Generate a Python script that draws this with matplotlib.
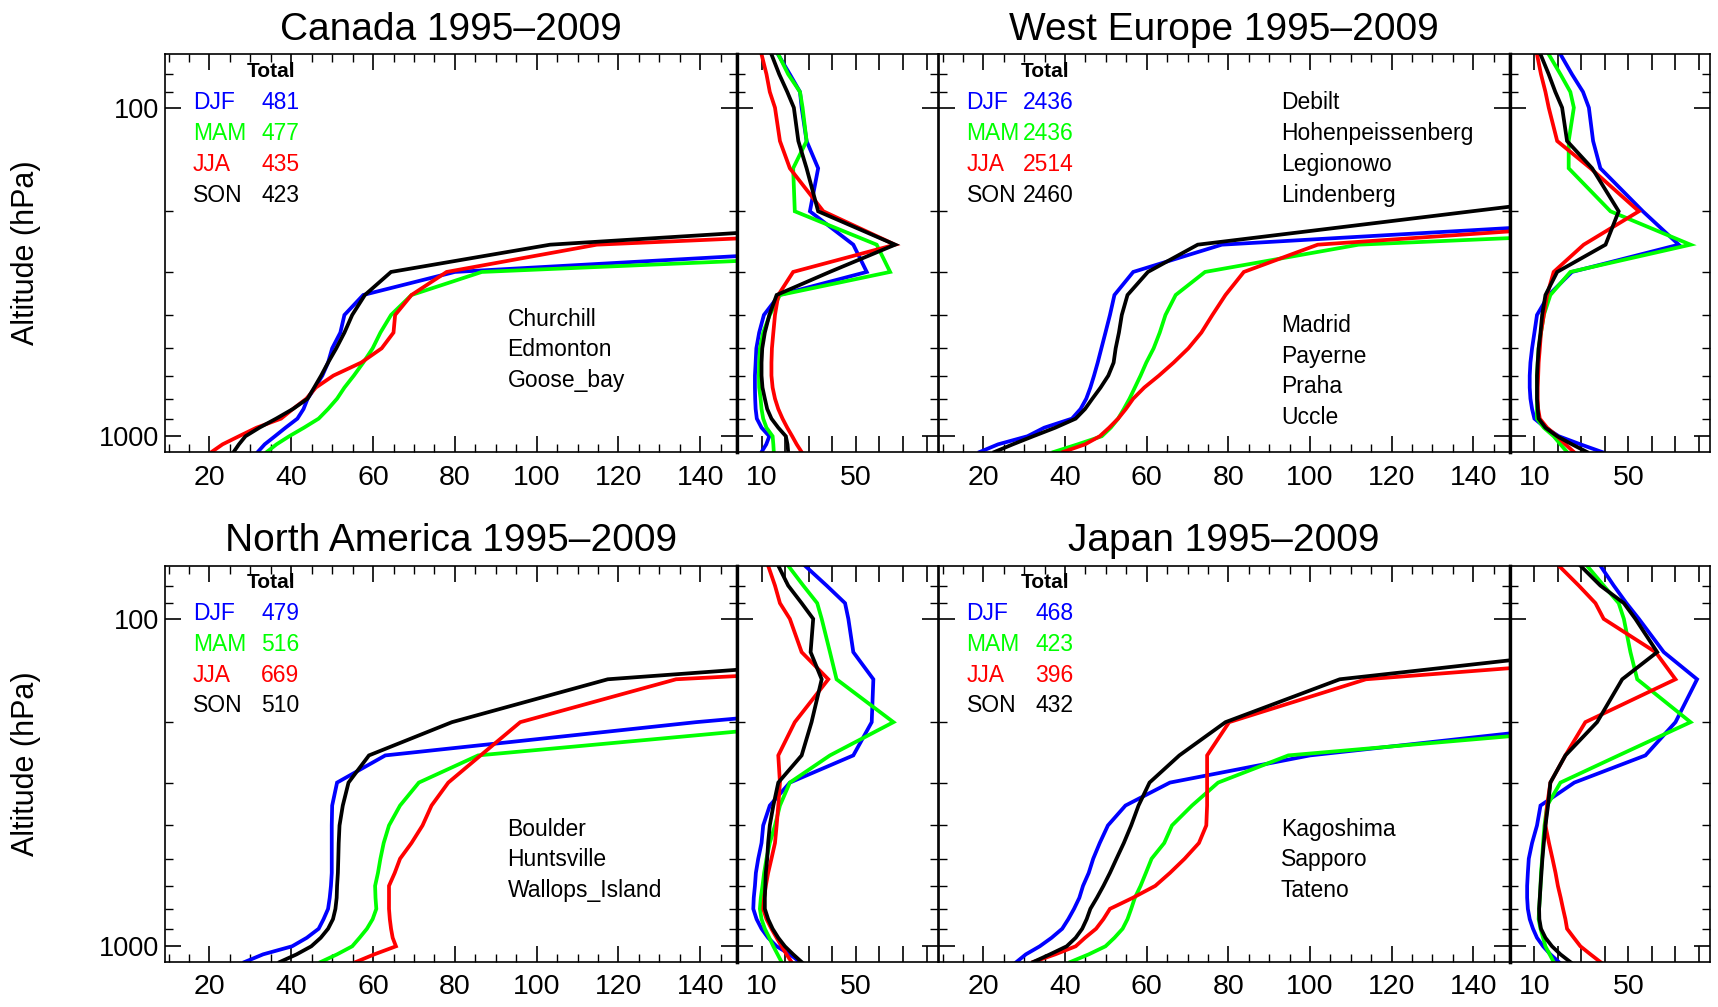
import matplotlib
matplotlib.use('Agg')
import matplotlib.pyplot as plt
from matplotlib.ticker import FixedLocator, FixedFormatter, NullFormatter

plt.rcParams['font.family'] = ['Liberation Sans', 'DejaVu Sans']

# ---------------- data ----------------
levels_hPa = [1000, 950, 900, 850, 800, 750, 700, 650, 600, 550, 500, 450,
              400, 350, 300, 250, 200, 150, 125, 100, 90, 80, 70]
seasons = ['DJF', 'MAM', 'JJA', 'SON']
season_colors = ['#0000ff', '#00ff00', '#ff0000', '#000000']

# Canada
canada_title = 'Canada 1995\u20132009'
canada_counts = [481, 477, 435, 423]
canada_stations = ['Churchill', 'Edmonton', 'Goose_bay']
canada_djf = [31.8, 33.5, 36.0, 38.6, 41.5, 43.0, 44.0, 45.8, 47.6, 49.0, 50.0, 52.0,
              53.0, 57.6, 80.0, 199, 300, 400, 450, 520, 560, 600, 650]
canada_mam = [34.0, 36.4, 39.5, 43.1, 46.7, 49.0, 51.2, 53.0, 55.3, 57.6, 59.9, 61.8,
              64.4, 69.4, 86.6, 242, 330, 420, 480, 550, 600, 650, 700]
canada_jja = [20.5, 23.2, 27.2, 31.5, 37.5, 40.4, 43.7, 46.0, 50.3, 57.1, 62.1, 65.0,
              65.4, 69.4, 78.0, 114.7, 300, 380, 430, 500, 550, 600, 650]
canada_son = [25.9, 27.2, 28.8, 32.2, 36.3, 40.4, 44.0, 45.6, 47.3, 49.0, 51.0, 53.0,
              54.9, 58.0, 64.4, 103.3, 234, 350, 420, 500, 550, 600, 680]
canada_djf_sd = [10.0, 12.0, 13.3, 10.0, 8.0, 7.5, 7.3, 7.2, 7.2, 7.5, 7.8, 9.0,
                 11.0, 17.5, 54.6, 48.9, 30.5, 34.0, 29.1, 27.0, 26.3, 22.0, 17.0]
canada_mam_sd = [15.2, 15.0, 14.7, 12.1, 10.7, 10.0, 9.6, 9.0, 8.9, 9.0, 9.3, 10.7,
                 13.5, 17.8, 64.5, 58.8, 24.1, 23.4, 29.1, 27.4, 26.3, 21.3, 17.1]
canada_jja_sd = [27.0, 24.9, 23.0, 20.9, 18.9, 17.1, 15.7, 14.7, 14.2, 14.2, 14.4, 15.0,
                 15.7, 17.1, 23.4, 66.6, 36.2, 22.0, 17.8, 15.7, 13.5, 12.1, 10.0]
canada_son_sd = [21.3, 21.0, 20.3, 17.1, 14.2, 12.4, 11.4, 10.4, 10.0, 10.0, 10.3, 11.4,
                 13.3, 16.4, 38.9, 66.6, 34.0, 29.1, 25.6, 23.7, 20.9, 17.5, 14.2]

# West Europe
weu_title = 'West Europe 1995\u20132009'
weu_counts = [2436, 2436, 2514, 2460]
weu_stations_upper = ['Debilt', 'Hohenpeissenberg', 'Legionowo', 'Lindenberg']
weu_stations_lower = ['Madrid', 'Payerne', 'Praha', 'Uccle']
weu_djf = [19.1, 23.6, 30.8, 34.9, 41.7, 43.8, 45.2, 46.2, 47.1, 48.0, 48.9, 49.9,
           51.0, 52.1, 56.7, 78.4, 220, 320, 380, 450, 500, 550, 600]
weu_mam = [37.2, 43.1, 49.0, 51.2, 53.0, 54.4, 55.8, 57.1, 58.5, 59.9, 61.7, 63.2,
           64.6, 67.1, 74.3, 111.9, 300, 380, 430, 500, 550, 600, 650]
weu_jja = [39.5, 44.9, 48.5, 50.8, 53.0, 54.9, 56.7, 59.4, 63.0, 66.6, 70.2, 73.4,
           76.1, 79.3, 83.8, 101.9, 220, 300, 360, 420, 470, 520, 570]
weu_son = [22.7, 27.2, 32.2, 37.6, 42.6, 44.9, 46.7, 48.7, 50.6, 51.9, 52.4, 53.2,
           53.9, 55.3, 60.3, 72.5, 139.6, 227, 300, 380, 430, 480, 530]
weu_djf_sd = [38.8, 29.6, 20.4, 14.7, 10.0, 9.0, 8.3, 8.0, 8.0, 8.3, 9.0, 10.0,
              11.1, 16.1, 26.0, 71.5, 56.2, 38.1, 35.0, 33.2, 30.7, 26.0, 21.1]
weu_mam_sd = [23.9, 21.1, 18.2, 14.0, 11.1, 11.1, 11.1, 11.1, 11.1, 11.4, 11.8, 12.8,
              14.0, 16.8, 25.3, 76.5, 42.4, 24.6, 24.6, 26.8, 25.3, 21.1, 16.1]
weu_jja_sd = [26.8, 23.2, 19.7, 15.4, 12.3, 11.6, 11.4, 11.4, 11.6, 11.8, 12.3, 12.8,
              14.0, 15.4, 18.2, 31.0, 54.5, 33.9, 19.7, 16.1, 14.7, 12.8, 11.1]
weu_son_sd = [32.4, 26.0, 19.7, 14.7, 11.8, 11.4, 11.1, 11.1, 11.1, 11.4, 11.8, 12.6,
              13.3, 14.7, 19.7, 40.3, 45.9, 34.6, 23.9, 21.8, 18.9, 16.1, 12.6]

# North America
nam_title = 'North America 1995\u20132009'
nam_counts = [479, 516, 669, 510]
nam_stations = ['Boulder', 'Huntsville', 'Wallops_Island']
nam_djf = [28.6, 33.1, 40.2, 43.8, 46.7, 47.9, 49.0, 49.4, 49.7, 49.9, 49.9, 49.9,
           49.9, 50.0, 51.2, 63.0, 139, 257, 320, 400, 450, 500, 550]
nam_mam = [47.2, 51.2, 54.9, 56.7, 58.5, 59.9, 60.8, 60.6, 60.5, 61.2, 61.8, 62.6,
           63.9, 66.6, 71.2, 85.7, 174, 280, 350, 420, 470, 520, 570]
nam_jja = [55.8, 60.3, 65.6, 64.8, 64.4, 64.1, 63.9, 63.9, 63.9, 65.3, 66.6, 69.4,
           72.1, 74.3, 78.4, 86.3, 96.0, 134.1, 260, 350, 400, 450, 500]
nam_son = [37.2, 41.3, 44.9, 47.2, 49.0, 50.2, 50.8, 51.1, 51.2, 51.4, 51.5, 51.6,
           51.8, 52.6, 54.0, 59.0, 79.3, 117.4, 208, 300, 350, 400, 450]
nam_djf_sd = [26.3, 22.0, 16.4, 12.8, 10.0, 7.9, 6.5, 6.7, 7.2, 7.6, 8.6, 10.0,
              10.7, 13.5, 22.0, 48.9, 56.7, 57.4, 48.9, 46.8, 45.4, 37.6, 28.4]
nam_mam_sd = [18.5, 16.8, 15.0, 13.3, 11.4, 10.0, 9.3, 9.7, 10.4, 11.1, 12.1, 13.5,
              15.7, 17.8, 22.0, 39.0, 65.9, 41.8, 39.0, 35.5, 33.6, 27.7, 21.3]
nam_jja_sd = [22.7, 20.6, 18.5, 16.4, 14.2, 12.1, 10.7, 11.1, 11.8, 12.8, 14.2, 15.7,
              16.4, 17.1, 17.8, 17.1, 24.1, 38.3, 27.0, 22.0, 17.8, 15.7, 12.8]
nam_son_sd = [27.0, 23.4, 19.9, 17.1, 14.7, 12.8, 11.4, 11.4, 11.6, 11.8, 12.4, 12.8,
              13.5, 15.0, 17.1, 27.0, 31.2, 35.5, 30.8, 31.9, 27.0, 21.3, 17.1]

# Japan
jpn_title = 'Japan 1995\u20132009'
jpn_counts = [468, 423, 396, 432]
jpn_stations = ['Kagoshima', 'Sapporo', 'Tateno']
jpn_djf = [28.1, 30.4, 33.8, 36.7, 39.3, 40.8, 42.2, 43.5, 44.4, 45.8, 46.9, 48.5,
           50.5, 54.8, 65.7, 100, 174, 260, 320, 380, 420, 460, 500]
jpn_mam = [41.3, 45.8, 49.9, 52.1, 54.1, 55.3, 56.2, 57.1, 58.5, 59.8, 61.2, 64.3,
           66.2, 71.1, 77.5, 94.7, 188.8, 270, 330, 400, 440, 480, 520]
jpn_jja = [32.2, 37.6, 42.6, 44.9, 47.6, 49.4, 51.0, 56.6, 62.1, 65.7, 69.3, 72.8,
           74.6, 74.8, 74.8, 74.8, 80.2, 113.7, 200, 280, 330, 380, 430]
jpn_son = [32.2, 36.3, 40.4, 42.6, 44.2, 45.3, 46.2, 47.8, 49.4, 51.0, 52.6, 54.4,
           56.2, 58.0, 60.7, 68.0, 79.3, 107.3, 167, 250, 300, 350, 400]
jpn_djf_sd = [20.4, 16.8, 13.7, 11.1, 9.4, 8.0, 7.2, 6.9, 6.9, 7.2, 7.6, 9.0,
              11.1, 12.6, 27.0, 57.3, 70.1, 79.3, 65.1, 54.5, 49.2, 43.8, 38.1]
jpn_mam_sd = [18.2, 16.5, 14.7, 13.7, 12.6, 11.8, 12.0, 12.3, 12.6, 12.8, 13.3, 13.7,
              14.3, 15.4, 21.1, 45.9, 76.5, 53.8, 50.9, 48.1, 45.9, 39.5, 32.4]
jpn_jja_sd = [38.1, 33.9, 29.6, 26.8, 23.9, 23.2, 22.2, 21.2, 20.0, 19.0, 17.7, 16.2,
              14.7, 15.4, 16.8, 23.2, 31.7, 70.1, 61.6, 39.5, 36.0, 28.9, 20.4]
jpn_son_sd = [25.3, 21.1, 17.5, 14.7, 12.8, 12.1, 12.0, 12.3, 12.6, 13.0, 13.4, 14.0,
              14.7, 15.8, 16.8, 23.2, 36.7, 47.4, 62.3, 53.0, 48.1, 38.1, 29.6]

# axis tick values / labels
main_xticks = [20, 40, 60, 80, 100, 120, 140]
main_xminor = [10, 15, 25, 30, 35, 45, 50, 55, 65, 70, 75, 85, 90, 95,
               105, 110, 115, 125, 130, 135, 145]
side_xticks = [10, 20, 30, 40, 50, 60, 70, 80]
side_xlabels = ['10', '', '', '', '50', '', '', '']
y_major = [100, 900]
y_major_labels = ['100', '1000']
y_minor = [80, 90, 200, 300, 400, 500, 600, 700, 800]

panels = [
    dict(title=canada_title, counts=canada_counts,
         st_upper=[], st_lower=canada_stations,
         prof=[canada_djf, canada_mam, canada_jja, canada_son],
         sd=[canada_djf_sd, canada_mam_sd, canada_jja_sd, canada_son_sd],
         col=0, row=0),
    dict(title=weu_title, counts=weu_counts,
         st_upper=weu_stations_upper, st_lower=weu_stations_lower,
         prof=[weu_djf, weu_mam, weu_jja, weu_son],
         sd=[weu_djf_sd, weu_mam_sd, weu_jja_sd, weu_son_sd],
         col=1, row=0),
    dict(title=nam_title, counts=nam_counts,
         st_upper=[], st_lower=nam_stations,
         prof=[nam_djf, nam_mam, nam_jja, nam_son],
         sd=[nam_djf_sd, nam_mam_sd, nam_jja_sd, nam_son_sd],
         col=0, row=1),
    dict(title=jpn_title, counts=jpn_counts,
         st_upper=[], st_lower=jpn_stations,
         prof=[jpn_djf, jpn_mam, jpn_jja, jpn_son],
         sd=[jpn_djf_sd, jpn_mam_sd, jpn_jja_sd, jpn_son_sd],
         col=1, row=1),
]

# ---------------- layout ----------------
W, H = 1718, 1007
fig = plt.figure(figsize=(W / 100, H / 100), dpi=100)


def rect(l, t, r, b):
    return [l / W, 1 - b / H, (r - l) / W, (b - t) / H]


main_lr = [(164.5, 737.0), (938.5, 1510.0)]
side_lr = [(737.0, 938.0), (1510.0, 1710.0)]
rows_tb = [(54.3, 452.0), (565.7, 962.0)]

LW = 2.7


def style_y(ax, labels):
    ax.set_yscale('log')
    ax.set_ylim(1000, 70)
    ax.yaxis.set_major_locator(FixedLocator(y_major))
    ax.yaxis.set_minor_locator(FixedLocator(y_minor))
    if labels:
        ax.yaxis.set_major_formatter(FixedFormatter(y_major_labels))
    else:
        ax.yaxis.set_major_formatter(NullFormatter())
    ax.yaxis.set_minor_formatter(NullFormatter())


def style_common(ax):
    ax.tick_params(which='both', direction='in', top=True, right=True)
    ax.tick_params(which='major', length=11.5, width=1.2)
    ax.tick_params(which='minor', length=5.8, width=1.0)
    ax.tick_params(axis='x', which='major', labelsize=20.5, pad=9)
    ax.tick_params(axis='y', which='major', labelsize=19.5, pad=4)
    for s in ax.spines.values():
        s.set_linewidth(1.2)


season_y = [0.879, 0.801, 0.724, 0.646]
lower3_y = [0.334, 0.258, 0.181]
lower4_y = [0.319, 0.240, 0.164, 0.086]

for p in panels:
    c, r = p['col'], p['row']
    t, b = rows_tb[r]
    axm = fig.add_axes(rect(main_lr[c][0], t, main_lr[c][1], b))
    axs = fig.add_axes(rect(side_lr[c][0], t, side_lr[c][1], b))

    for vals, sdv, col in zip(p['prof'], p['sd'], season_colors):
        axm.plot(vals, levels_hPa, color=col, lw=LW, solid_joinstyle='miter')
        axs.plot(sdv, levels_hPa, color=col, lw=LW, solid_joinstyle='miter')

    # main axis
    style_y(axm, labels=(c == 0))
    axm.set_xlim(9, 149)
    axm.xaxis.set_major_locator(FixedLocator(main_xticks))
    axm.xaxis.set_minor_locator(FixedLocator(main_xminor))
    style_common(axm)

    # side axis
    style_y(axs, labels=False)
    axs.set_xlim(-0.4, 84.8)
    axs.xaxis.set_major_locator(FixedLocator(side_xticks))
    axs.xaxis.set_major_formatter(FixedFormatter(side_xlabels))
    style_common(axs)
    axs.spines['left'].set_linewidth(2.4)
    axm.spines['right'].set_linewidth(2.4)

    # title
    axm.text(0.5, 1.037, p['title'], transform=axm.transAxes,
             ha='center', va='baseline', fontsize=28)

    # legend block
    axm.text(0.1443, 0.958, 'Total', transform=axm.transAxes, ha='left',
             va='center', fontsize=15, fontweight='bold')
    for name, n, col, yy in zip(seasons, p['counts'], season_colors, season_y):
        axm.text(0.0492, yy, name, transform=axm.transAxes, ha='left',
                 va='center', fontsize=16.5, color=col)
        axm.text(0.236, yy, str(n), transform=axm.transAxes, ha='right',
                 va='center', fontsize=16.5, color=col)

    # station names
    for name, yy in zip(p['st_upper'], season_y):
        axm.text(0.599, yy, name, transform=axm.transAxes, ha='left',
                 va='center', fontsize=16.5)
    low_y = lower4_y if len(p['st_lower']) == 4 else lower3_y
    for name, yy in zip(p['st_lower'], low_y):
        axm.text(0.599, yy, name, transform=axm.transAxes, ha='left',
                 va='center', fontsize=16.5)

# y-axis labels
for t, b in rows_tb:
    fig.text(26 / W, 1 - (t + b) / 2 / H, 'Altitude (hPa)', rotation=90,
             ha='center', va='center', fontsize=22)

fig.savefig('out.png', dpi=100)
